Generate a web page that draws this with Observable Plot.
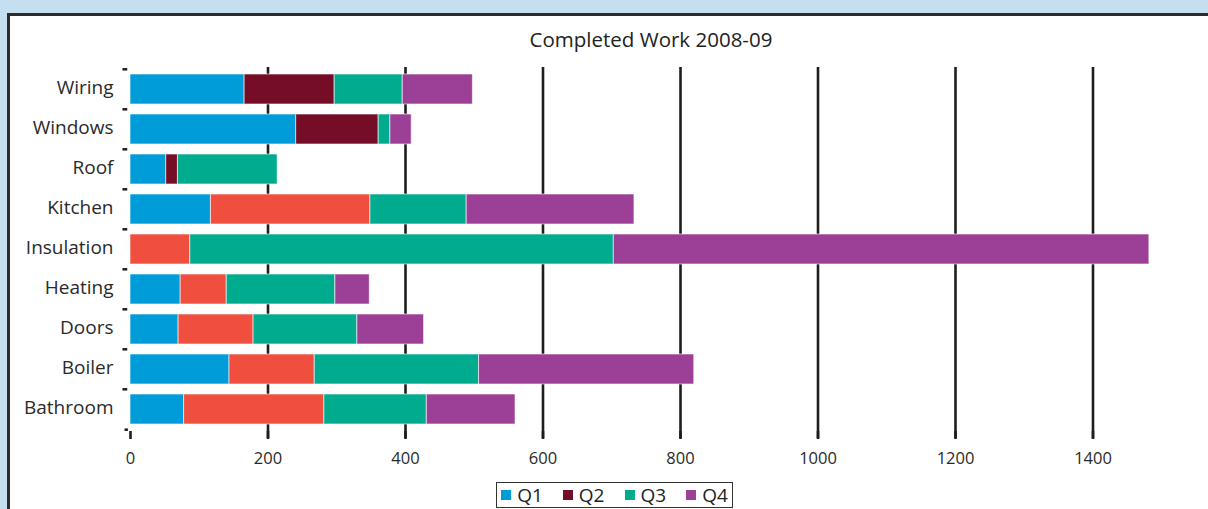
<!DOCTYPE html>
<html>
<head>
<meta charset="utf-8">
<script src="https://cdn.jsdelivr.net/npm/d3@7"></script>
<script src="https://cdn.jsdelivr.net/npm/@observablehq/plot@0.6"></script>
<style>
  html, body { margin: 0; padding: 0; width: 1208px; height: 509px; overflow: hidden; background: #c5dff0; font-family: "Open Sans", "Noto Sans", sans-serif; }
  #panel { position: absolute; left: 7px; top: 13px; width: 1300px; height: 600px; background: #fff; border-left: 3px solid #2b2b2b; border-top: 3px solid #2b2b2b; }
  #chart { position: absolute; left: 0; top: 0; }
  #title { position: absolute; top: 25px; left: 451px; width: 400px; text-align: center; font-size: 20.5px; color: #222; }
  #legend { position: absolute; left: 496px; top: 482px; width: 237px; height: 26px; border: 1.5px solid #333; box-sizing: border-box; display: flex; align-items: center; justify-content: center; gap: 20px; font-size: 19px; color: #222; background: #fff; }
  #legend span.item { display: inline-flex; align-items: center; gap: 6px; }
  #legend span.sw { width: 10px; height: 10px; display: inline-block; }
</style>
</head>
<body>
<div id="panel"></div>
<div id="chart"></div>
<div id="title">Completed Work 2008-09</div>
<div id="legend"></div>
<script>
const categories = ["Wiring", "Windows", "Roof", "Kitchen", "Insulation", "Heating", "Doors", "Boiler", "Bathroom"];
const quarters = ["Q1", "Q2", "Q3", "Q4"];
const q1 = [166, 241, 52, 117, 0, 73, 70, 144, 78];
const q2 = [131, 120, 17, 232, 87, 67, 109, 124, 204];
const q3 = [99, 17, 145, 140, 616, 158, 151, 239, 149];
const q4 = [102, 31, 0, 244, 779, 50, 97, 313, 129];
const xTicks = [0, 200, 400, 600, 800, 1000, 1200, 1400];

const colors = { Q1: "#009bd9", Q2: "#760d27", Q3: "#00ab8e", Q4: "#9c3f96" };
const q2Alt = "#f04e3e";
const maroonRows = new Set(["Wiring", "Windows", "Roof"]);

const series = [q1, q2, q3, q4];
const data = [];
categories.forEach((c, i) => {
  quarters.forEach((q, j) => {
    data.push({ category: c, quarter: q, value: series[j][i] });
  });
});
const fillOf = d => (d.quarter === "Q2" && !maroonRows.has(d.category)) ? q2Alt : colors[d.quarter];

const chart = Plot.plot({
  width: 1208,
  height: 473,
  marginLeft: 130,
  marginRight: 46.75,
  marginTop: 67,
  marginBottom: 42,
  style: { fontFamily: "'Open Sans', 'Noto Sans', sans-serif", background: "transparent", color: "#2a2a2a" },
  x: { domain: [0, 1500], axis: null, label: null },
  y: { domain: categories, paddingInner: 0.25, paddingOuter: 0.125, axis: null, label: null },
  marks: [
    Plot.ruleX(xTicks.filter(t => t > 0), { stroke: "#1e1e1e", strokeWidth: 2.6, insetBottom: -7 }),
    Plot.barX(data, Plot.stackX({ y: "category", x: "value", fill: fillOf, stroke: "#ffffff", strokeOpacity: 0.6, strokeWidth: 1 })),
    Plot.axisX({ ticks: xTicks, tickSize: 8, tickPadding: 13, fontSize: 16.5, stroke: "#1e1e1e", strokeWidth: 2.6, tickFormat: d => String(d), label: null }),
    Plot.axisY({ tickSize: 0, tickPadding: 17, fontSize: 19, label: null, dy: -2 }),
    Plot.ruleY(categories, { y: d => d, x1: -11, x2: -4, dy: -20.2, stroke: "#1e1e1e", strokeWidth: 2.5 }),
    Plot.ruleY(categories.slice(-1), { y: d => d, x1: -8, x2: -3, dy: 20.2, stroke: "#1e1e1e", strokeWidth: 2.5 })
  ]
});
document.getElementById("chart").appendChild(chart);

const legend = document.getElementById("legend");
quarters.forEach(q => {
  const item = document.createElement("span");
  item.className = "item";
  const sw = document.createElement("span");
  sw.className = "sw";
  sw.style.background = colors[q];
  item.appendChild(sw);
  item.appendChild(document.createTextNode(q));
  legend.appendChild(item);
});
</script>
</body>
</html>
